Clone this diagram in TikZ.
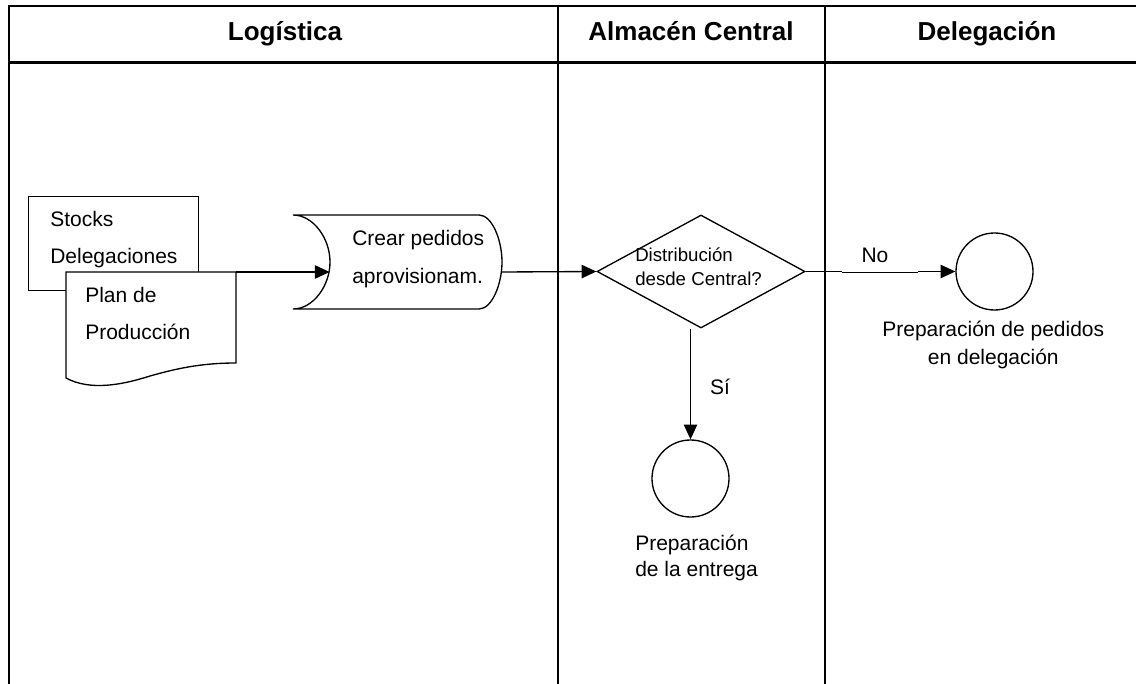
\documentclass[tikz,border=0pt]{standalone}
\usepackage{fontspec}
\setmainfont{Liberation Sans}
\usetikzlibrary{shapes.geometric,arrows.meta}

\newcommand\txtsize[2]{\fontsize{#1}{#2}\selectfont}

\begin{document}
\begin{tikzpicture}[x=0.75pt,y=-0.75pt,
  outline/.style={draw=black,line width=1pt},
  flow/.style={draw=black,line width=1pt,-{Triangle[length=11pt,width=10pt]}},
  lane/.style={draw=black,line width=1.3pt},
  head/.style={font=\txtsize{19.5}{23}\bfseries,inner sep=0pt,anchor=base},
  txt/.style={inner sep=0pt,text=black},
  twoline/.style={txt,font=\txtsize{15.75}{27.75}},
]
\useasboundingbox (0,0) rectangle (1136,684);

% swimlane frame
\draw[lane] (9,684) -- (9,6) -- (1136,6);
\draw[draw=black,line width=1.8pt] (9,62.5) -- (1136,62.5);
\draw[lane] (558,6) -- (558,684);
\draw[lane] (825,6) -- (825,684);

% lane titles
\node[head] (hlog) at (285,41) {Logística};
\node[head] (halm) at (691,41) {Almacén Central};
\node[head] (hdel) at (987,41) {Delegación};

% input documents
\node[outline,rectangle,minimum width=127.5pt,minimum height=70.5pt,anchor=north west] (stocks) at (28,196) {};
\node[twoline,anchor=west,align=left] (tstocks) at (50,240) {Stocks\\Delegaciones};

\draw[outline,fill=white] (66,272) -- (236,272) -- (236,363)
  .. controls (200,363) and (175,369) .. (150,376)
  .. controls (122,385) and (90,391) .. (66,378) -- cycle;
\coordinate (planne) at (236,272);
\node[twoline,anchor=west,align=left] (tplan) at (85,313) {Plan de\\Producción};

% stored-data step
\draw[outline,fill=white] (293,215) -- (479,215)
  .. controls (492,215) and (502,240) .. (502,262)
  .. controls (502,284) and (492,309) .. (479,309)
  -- (293,309)
  .. controls (313,309) and (330,286) .. (330,262)
  .. controls (330,238) and (313,215) .. (293,215) -- cycle;
\coordinate (sdw) at (329.6,272);
\coordinate (sde) at (501.7,272);
\node[twoline,anchor=west,align=left,font=\txtsize{15.75}{29}] (tcrear) at (352,259) {Crear pedidos\\aprovisionam.};

% decision
\node[diamond,outline,minimum width=156pt,minimum height=84.75pt,inner sep=0pt] (dia) at (701,271.5) {};
\node[txt,anchor=west,align=left,font=\txtsize{14}{18}] (tdia) at (635,267)
  {Distribución\\desde Central?};

% end events
\node[circle,outline,minimum size=57.75pt,inner sep=0pt] (deleg) at (994.5,271.5) {};
\node[txt,align=center,font=\txtsize{15.75}{20.5}] (tdeleg) at (993.3,345) {Preparación de pedidos\\en delegación};

\node[circle,outline,minimum size=57.75pt,inner sep=0pt] (entrega) at (690.5,478.5) {};
\node[txt,anchor=west,align=left,font=\txtsize{15.75}{19.5}] (tentrega) at (635,558) {Preparación\\de la entrega};

% flows
\draw[flow] (planne) -- (sdw);
\draw[flow] (sde) -- (dia.west);
\draw[flow] (dia.east) -- (deleg.west);
\node[fill=white,inner sep=0pt,minimum width=57pt,minimum height=18pt,anchor=south] (nobox) at (880,272.2) {};
\draw[draw=black,line width=0.5pt] (nobox.south west) -- (nobox.south east);
\node[txt,font=\txtsize{15.75}{19},anchor=base] (tno) at (875,263) {No};

\draw[flow] (dia.south -| entrega.north) -- (entrega.north);
\node[txt,font=\txtsize{15.75}{19},anchor=base] (tsi) at (720,395) {Sí};

\end{tikzpicture}
\end{document}
